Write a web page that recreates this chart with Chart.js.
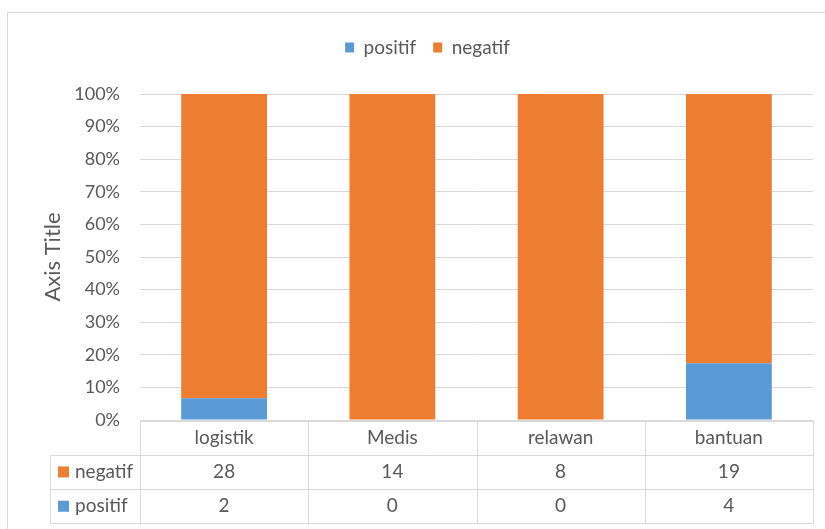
<!DOCTYPE html>
<html>
<head>
<meta charset="utf-8">
<script src="https://cdn.jsdelivr.net/npm/chart.js@4/dist/chart.umd.min.js"></script>
<style>
  html, body { margin: 0; padding: 0; background: #fff; }
  #wrap { width: 825px; height: 529px; position: relative; }
</style>
</head>
<body>
<div id="wrap"><canvas id="chart" width="825" height="529"></canvas></div>
<script>
// ============================================================
// DATA
// ============================================================
const categories = ["logistik", "Medis", "relawan", "bantuan"];
const positif    = [2, 0, 0, 4];
const negatif    = [28, 14, 8, 19];
const yTicks     = ["0%", "10%", "20%", "30%", "40%", "50%", "60%", "70%", "80%", "90%", "100%"];

const BLUE   = "#5B9BD5";
const ORANGE = "#ED7D31";
const TEXT   = "#595959";
const GRID   = "#D9D9D9";
const FONT   = "Lato, 'Open Sans', sans-serif";

// 100% stacked: share of each column total
const totals   = categories.map((_, i) => positif[i] + negatif[i]);
const posShare = positif.map((v, i) => totals[i] ? v / totals[i] * 100 : 0);
const negShare = negatif.map((v, i) => totals[i] ? v / totals[i] * 100 : 0);

// ============================================================
// LEGEND GAP (extra room under legend, nudge to the right)
// ============================================================
const legendGap = {
  id: "legendGap",
  beforeUpdate(chart) {
    const lg = chart.legend;
    if (lg && !lg._gapPatched) {
      const fit = lg.fit;
      lg.fit = function () { fit.call(this); this.height += 27; };
      lg._gapPatched = true;
    }
  },
  afterLayout(chart) {
    if (chart.legend) chart.legend.left += 42;
  }
};

// ============================================================
// DATA TABLE + FRAME (drawn under the x axis)
// ============================================================
const tablePlugin = {
  id: "dataTable",
  afterDraw(chart) {
    const ctx = chart.ctx;
    const area = chart.chartArea;
    const x = chart.scales.x;
    const headLeft = 50;
    const rowTop = area.bottom + 0.5;
    const rowH = 34.3;
    const step = x.getPixelForValue(1) - x.getPixelForValue(0);

    ctx.save();
    // outer frame
    ctx.strokeStyle = "#D9D9D9";
    ctx.lineWidth = 1;
    ctx.strokeRect(7.5, 12.5, 840, 540);

    // grid of the table
    ctx.strokeStyle = GRID;
    ctx.beginPath();
    const bounds = [area.left];
    categories.forEach((c, i) => bounds.push(x.getPixelForValue(i) + step / 2));
    bounds.forEach(b => {
      const bx = Math.round(b) + 0.5;
      ctx.moveTo(bx, rowTop);
      ctx.lineTo(bx, rowTop + rowH * 3);
    });
    ctx.moveTo(headLeft + 0.5, rowTop + rowH);
    ctx.lineTo(headLeft + 0.5, rowTop + rowH * 3);
    ctx.moveTo(area.left, Math.round(rowTop) + 0.5);
    ctx.lineTo(bounds[bounds.length - 1], Math.round(rowTop) + 0.5);
    for (let r = 1; r <= 3; r++) {
      const y = Math.round(rowTop + rowH * r) + 0.5;
      ctx.moveTo(headLeft, y);
      ctx.lineTo(bounds[bounds.length - 1], y);
    }
    ctx.stroke();

    // texts
    ctx.fillStyle = TEXT;
    ctx.font = "19px " + FONT;
    ctx.textAlign = "center";
    ctx.textBaseline = "middle";
    categories.forEach((c, i) => {
      const cx = x.getPixelForValue(i);
      ctx.fillText(c, cx, rowTop + rowH * 0.5);
      ctx.fillText(String(negatif[i]), cx, rowTop + rowH * 1.5);
      ctx.fillText(String(positif[i]), cx, rowTop + rowH * 2.5);
    });

    // row headers with legend keys
    const rows = [["negatif", ORANGE], ["positif", BLUE]];
    rows.forEach(([label, col], r) => {
      const cy = rowTop + rowH * (1.5 + r);
      ctx.fillStyle = col;
      ctx.fillRect(58, cy - 5.5, 11, 11);
      ctx.fillStyle = TEXT;
      ctx.textAlign = "left";
      ctx.fillText(label, 75, cy);
    });
    ctx.restore();
  }
};

// ============================================================
// CHART
// ============================================================
new Chart(document.getElementById("chart"), {
  type: "bar",
  data: {
    labels: categories,
    datasets: [
      { label: "positif", data: posShare, backgroundColor: BLUE },
      { label: "negatif", data: negShare, backgroundColor: ORANGE },
    ],
  },
  options: {
    responsive: false,
    animation: false,
    layout: { padding: { top: 21, right: 12, bottom: 109, left: 0 } },
    datasets: { bar: { barPercentage: 0.51, categoryPercentage: 1 } },
    plugins: {
      tooltip: { enabled: false },
      legend: {
        position: "top",
        labels: {
          color: TEXT,
          font: { family: FONT, size: 19 },
          boxWidth: 9,
          boxHeight: 10,
          padding: 17,
        },
      },
    },
    scales: {
      x: {
        stacked: true,
        display: false,
      },
      y: {
        stacked: true,
        min: 0,
        max: 100,
        afterFit(scale) { scale.width = 140; },
        afterBuildTicks(scale) {
          scale.ticks = yTicks.map((t, i) => ({ value: i * 10 }));
        },
        ticks: {
          color: TEXT,
          font: { family: FONT, size: 18 },
          padding: 20,
          callback: (v, i) => yTicks[i],
        },
        grid: { color: GRID, drawTicks: false },
        border: { display: false },
        title: {
          display: true,
          text: "Axis Title",
          color: TEXT,
          font: { family: FONT, size: 22 },
          padding: { top: 40 },
        },
      },
    },
  },
  plugins: [legendGap, tablePlugin],
});
</script>
</body>
</html>
